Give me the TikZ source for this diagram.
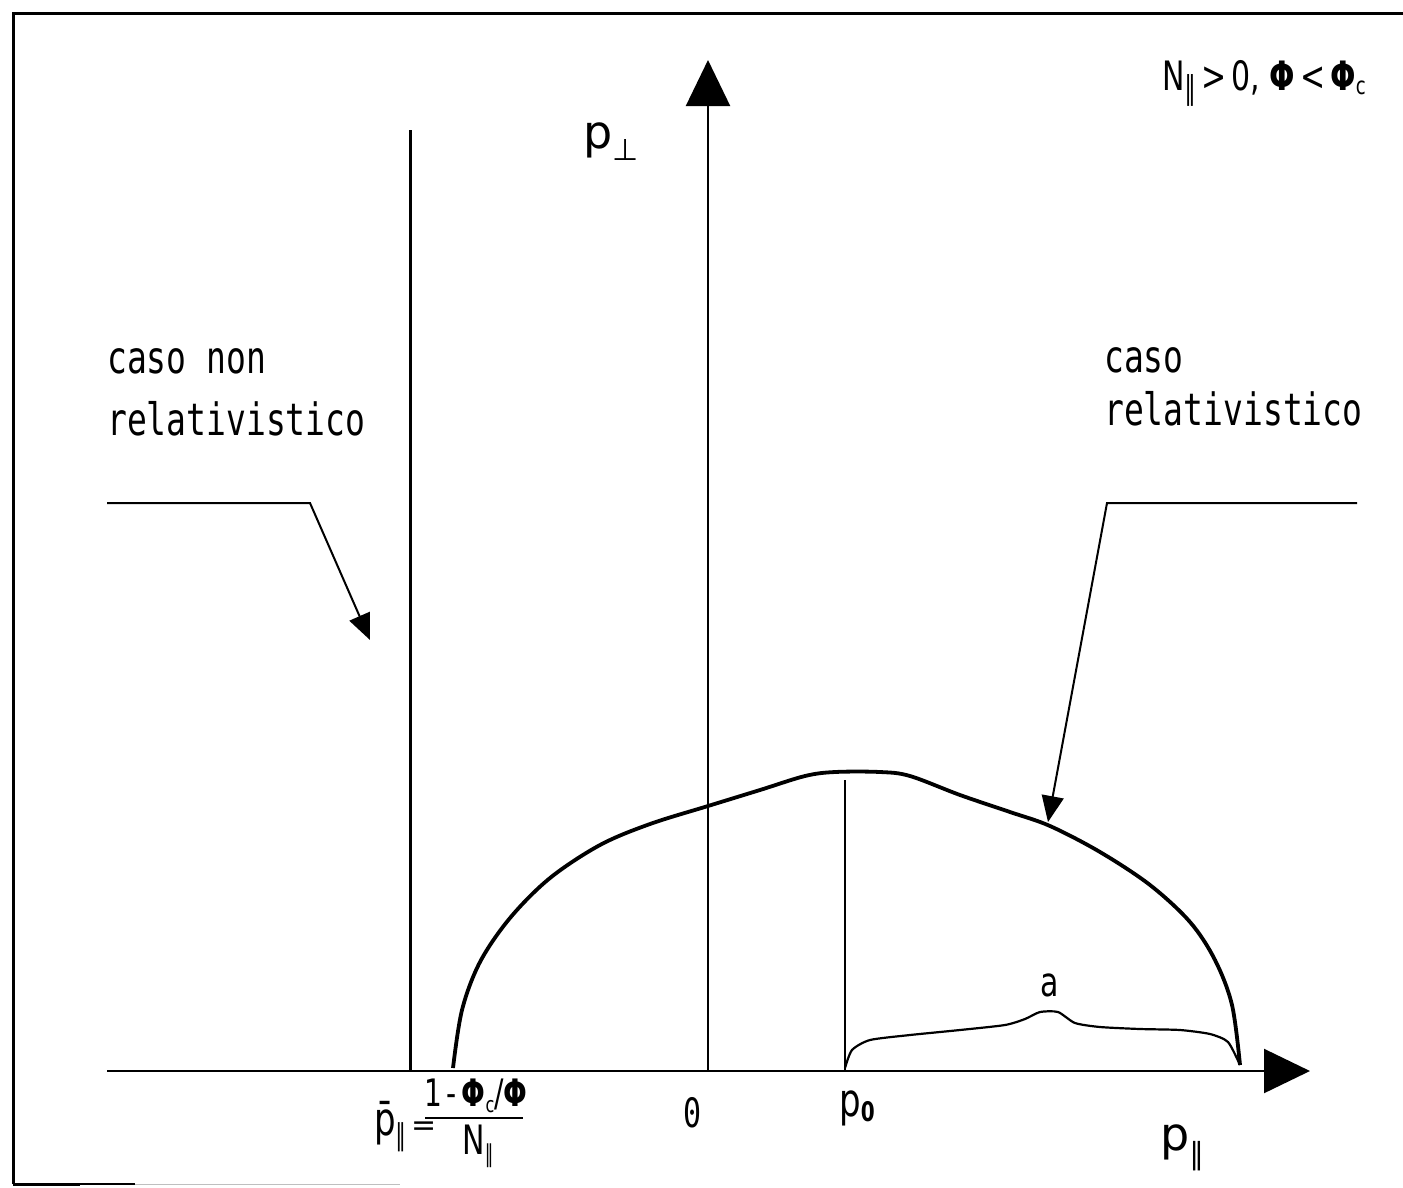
\documentclass[tikz,border=0pt]{standalone}
\usepackage{fontspec}
\setmainfont{DejaVu Sans}
\newfontfamily\plotmono{DejaVu Sans Mono}
\usetikzlibrary{arrows.meta}
\tikzset{
  axis/.style={line width=2.2pt,-{Triangle[length=46pt,width=44pt]}},
  leader/.style={line width=2pt,-{Triangle[length=26pt,width=22pt]}},
  curvebig/.style={line width=3.8pt,line join=round},
  curvesmall/.style={line width=2.2pt,line join=round},
  vline/.style={line width=3pt},
  thinline/.style={line width=1.8pt},
  caption/.style={inner sep=0pt,font=\plotmono\fontsize{33}{33}\selectfont},
  lab/.style={inner sep=0pt,font=\fontsize{30}{30}\selectfont}
}
\newcommand{\tallt}[1]{\scalebox{1}[1.35]{#1}}
\begin{document}
\begin{tikzpicture}[x=1pt,y=-1pt]
\useasboundingbox (0,0) rectangle (1403,1187);
% frame
\draw[line width=3pt] (13,1184) -- (13,13) -- (1403,13);
\draw[line width=3pt] (13,1184) -- (80,1184);
\draw[line width=2pt] (80,1184) -- (135,1184);
\draw[line width=1pt,black!25] (135,1184) -- (400,1184);
% axes
\coordinate (xs) at (107,1071);
\coordinate (xe) at (1310,1071);
\coordinate (O) at (708,1071);
\coordinate (ye) at (708,60);
\draw[axis] (xs) -- (xe);
\draw[axis] (O) -- (ye);
% non-relativistic vertical line
\coordinate (nrb) at (410,1071);
\coordinate (nrt) at (410,130);
\draw[vline] (nrb) -- (nrt);
% centre line
\coordinate (cb) at (845,1071);
\coordinate (ct) at (845,780);
\draw[thinline] (cb) -- (ct);
% big resonance curve
\draw[curvebig] plot[smooth,tension=0.55] coordinates {
 (453,1068) (462,1010) (480,962) (510,918) (550,878) (600,845) (650,824)
 (708,806) (760,790) (805,776) (835,772) (880,772) (910,776)
 (960,795) (1010,812) (1050,826) (1100,852) (1150,885) (1190,922)
 (1215,960) (1232,1005) (1240,1065)};
% small curve
\draw[curvesmall] plot[smooth,tension=0.4] coordinates {
 (845,1068) (852,1050) (870,1040) (910,1035) (960,1030) (1005,1025)
 (1025,1019) (1040,1012) (1058,1012) (1075,1023) (1100,1027) (1140,1029)
 (1180,1030) (1210,1034) (1228,1042) (1240,1065)};
\node[lab,font=\fontsize{30}{30}\selectfont] (alab) at (1050,985) {\tallt{a}};
% leaders
\coordinate (l1) at (107,503);
\coordinate (l2) at (310,503);
\coordinate (l3) at (370,640);
\draw[leader] (l1) -- (l2) -- (l3);
\coordinate (r1) at (1357,503);
\coordinate (r2) at (1107,503);
\coordinate (r3) at (1048,822);
\draw[leader] (r1) -- (r2) -- (r3);
% captions
\node[caption,anchor=base west] (c1) at (107,373) {\tallt{caso non}};
\node[caption,anchor=base west] (c2) at (107,435) {\tallt{relativistico}};
\node[caption,anchor=base west] (c3) at (1104,372) {\tallt{caso}};
\node[caption,anchor=base west] (c4) at (1104,425) {\tallt{relativistico}};
% top-right condition
\node[lab,anchor=base east] (cond) at (1366,90) {\tallt{N\raisebox{-7pt}{\fontsize{24}{24}\selectfont ∥}\,>\,0,\ \textbf{Φ}\,<\,\textbf{Φ}\raisebox{-3pt}{\fontsize{18}{18}\selectfont c}}};
% axis labels
\node[lab,anchor=base west] (pperp) at (583,148) {\fontsize{46}{46}\selectfont p\raisebox{-12pt}{\fontsize{30}{30}\selectfont ⊥}};
\node[lab,anchor=base west] (ppar) at (1160,1150) {\fontsize{46}{46}\selectfont p\raisebox{-14pt}{\fontsize{30}{30}\selectfont ∥}};
\node[lab] (zero) at (693,1113) {\tallt{\plotmono\fontsize{30}{30}\selectfont 0}};
\node[lab] (pzero) at (857,1108) {\tallt{\fontsize{34}{34}\selectfont p\raisebox{-4pt}{\fontsize{20}{20}\selectfont\textbf{0}}}};
% non-relativistic formula
\node[lab,anchor=base west] (pbar) at (374,1135) {\tallt{\fontsize{34}{34}\selectfont p̄\raisebox{-8pt}{\fontsize{22}{22}\selectfont ∥}}\,=};
\node[lab,font=\fontsize{28}{28}\selectfont] (num) at (476,1096) {\tallt{1\,-\,\textbf{Φ}\raisebox{-4pt}{\fontsize{16}{16}\selectfont c}/\textbf{Φ}}};
\node[lab,font=\fontsize{30}{30}\selectfont] (den) at (478,1146) {\tallt{N\raisebox{-6pt}{\fontsize{18}{18}\selectfont ∥}}};
\coordinate (fb1) at (425,1118);
\coordinate (fb2) at (523,1118);
\draw[line width=1.6pt] (fb1) -- (fb2);
\end{tikzpicture}
\end{document}
